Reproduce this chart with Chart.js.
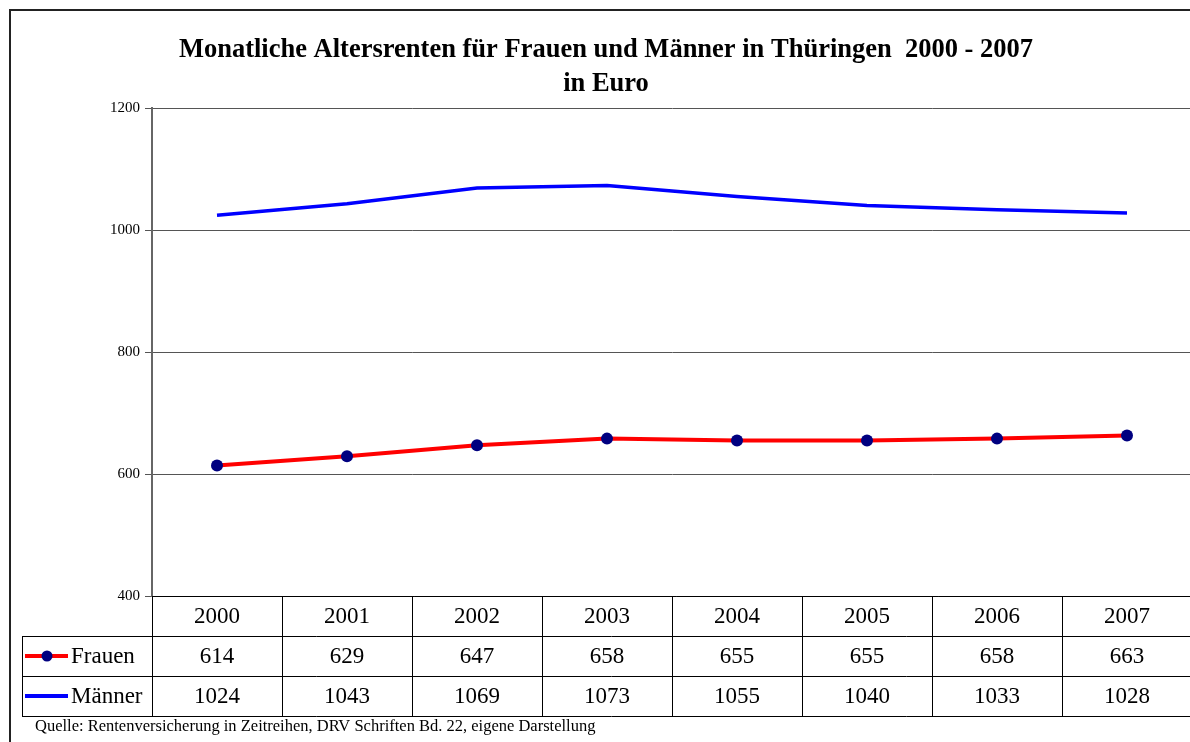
<!DOCTYPE html>
<html>
<head>
<meta charset="utf-8">
<script src="https://cdn.jsdelivr.net/npm/chart.js@4"></script>
<style>
  html, body { margin: 0; padding: 0; background: #fff; overflow: hidden; }
  #chart { position: absolute; left: 0; top: 0; }
</style>
</head>
<body>
<canvas id="chart" width="1200" height="742"></canvas>
<script>
// daten
const jahre = ['2000', '2001', '2002', '2003', '2004', '2005', '2006', '2007'];
const frauen = [614, 629, 647, 658, 655, 655, 658, 663];
const maenner = [1024, 1043, 1069, 1073, 1055, 1040, 1033, 1028];
const yTicks = [400, 600, 800, 1000, 1200];

const titel = ['Monatliche Altersrenten für Frauen und Männer in Thüringen  2000 - 2007', 'in Euro'];
const quelle = 'Quelle: Rentenversicherung in Zeitreihen, DRV Schriften Bd. 22, eigene Darstellung';

const serif = "'Liberation Serif', 'Times New Roman', serif";

// rahmen, titel, datentabelle und quelle
const tabelle = {
  id: 'tabelle',
  afterDraw(chart) {
    const ctx = chart.ctx;
    const x = chart.scales.x;
    const area = chart.chartArea;
    const top = area.bottom;
    const rowH = 40;
    const left = 22;
    const step = x.getPixelForValue(1) - x.getPixelForValue(0);

    ctx.save();

    // rahmen
    ctx.strokeStyle = '#222';
    ctx.lineWidth = 2;
    ctx.beginPath();
    ctx.moveTo(10, 760);
    ctx.lineTo(10, 10);
    ctx.lineTo(1210, 10);
    ctx.stroke();

    // titel
    ctx.fillStyle = '#000';
    ctx.textAlign = 'center';
    ctx.textBaseline = 'alphabetic';
    ctx.font = 'bold 26.5px ' + serif;
    ctx.fillText(titel[0], 606, 57);
    ctx.fillText(titel[1], 606, 91);

    // tabellenlinien
    ctx.strokeStyle = '#000';
    ctx.lineWidth = 1;
    ctx.beginPath();
    ctx.moveTo(area.left, top + 0.5);
    ctx.lineTo(area.right + 10, top + 0.5);
    for (let r = 1; r <= 3; r++) {
      ctx.moveTo(left, top + r * rowH + 0.5);
      ctx.lineTo(area.right + 10, top + r * rowH + 0.5);
    }
    ctx.moveTo(left + 0.5, top + rowH);
    ctx.lineTo(left + 0.5, top + 3 * rowH);
    ctx.moveTo(area.left + 0.5, top);
    ctx.lineTo(area.left + 0.5, top + 3 * rowH);
    for (let i = 1; i < jahre.length; i++) {
      const bx = Math.round(x.getPixelForValue(i) - step / 2) + 0.5;
      ctx.moveTo(bx, top);
      ctx.lineTo(bx, top + 3 * rowH);
    }
    ctx.stroke();

    // werte
    ctx.font = '23px ' + serif;
    ctx.textAlign = 'center';
    ctx.textBaseline = 'middle';
    jahre.forEach((j, i) => {
      const cx = x.getPixelForValue(i);
      ctx.fillText(j, cx, top + rowH / 2 + 1);
      ctx.fillText(String(frauen[i]), cx, top + rowH * 1.5 + 1);
      ctx.fillText(String(maenner[i]), cx, top + rowH * 2.5 + 1);
    });

    // legende
    const ds = chart.data.datasets;
    [0, 1].forEach(r => {
      const y = top + rowH * (r + 1.5);
      ctx.strokeStyle = ds[r].borderColor;
      ctx.lineWidth = 4;
      ctx.beginPath();
      ctx.moveTo(25, y);
      ctx.lineTo(68, y);
      ctx.stroke();
      if (ds[r].pointRadius > 0) {
        ctx.fillStyle = ds[r].pointBackgroundColor;
        ctx.beginPath();
        ctx.arc(47, y, 5.5, 0, Math.PI * 2);
        ctx.fill();
      }
      ctx.fillStyle = '#000';
      ctx.textAlign = 'left';
      ctx.fillText(ds[r].label, 71, y + 1);
    });

    // quelle
    ctx.font = '16.5px ' + serif;
    ctx.textAlign = 'left';
    ctx.textBaseline = 'alphabetic';
    ctx.fillText(quelle, 35, 731);

    ctx.restore();
  }
};

new Chart(document.getElementById('chart'), {
  type: 'line',
  data: {
    labels: jahre,
    datasets: [
      {
        label: 'Frauen',
        data: frauen,
        borderColor: '#ff0000',
        borderWidth: 4,
        pointRadius: 6,
        pointBackgroundColor: '#000080',
        pointBorderColor: '#000080',
        pointBorderWidth: 0,
        tension: 0
      },
      {
        label: 'Männer',
        data: maenner,
        borderColor: '#0000ff',
        borderWidth: 3.5,
        pointRadius: 0,
        tension: 0
      }
    ]
  },
  options: {
    responsive: false,
    animation: false,
    devicePixelRatio: 1,
    layout: { padding: { left: 0, right: 8, top: 108, bottom: 146 } },
    plugins: {
      legend: { display: false },
      title: { display: false },
      tooltip: { enabled: false }
    },
    scales: {
      x: {
        type: 'category',
        display: false,
        offset: true
      },
      y: {
        min: 400,
        max: 1200,
        afterFit(scale) { scale.width = 152; },
        afterBuildTicks(scale) { scale.ticks = yTicks.map(v => ({ value: v })); },
        ticks: {
          color: '#000',
          padding: 5,
          font: { family: serif, size: 15 },
          callback: v => String(v)
        },
        grid: {
          color: '#555',
          lineWidth: 1,
          tickLength: 7
        },
        border: { color: '#666', width: 2 }
      }
    }
  },
  plugins: [tabelle]
});
</script>
</body>
</html>
